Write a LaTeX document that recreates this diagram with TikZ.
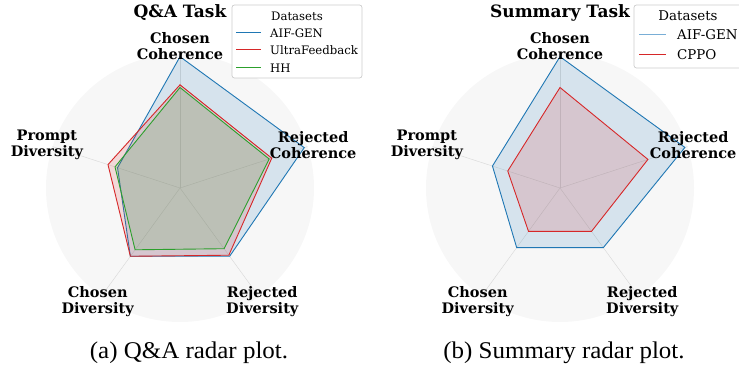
\documentclass[tikz,border=0pt]{standalone}
\usepackage{fontspec}
\setmainfont{Liberation Serif}
\newfontfamily\plotfont{DejaVu Serif}
\usetikzlibrary{positioning}
\definecolor{aifblue}{HTML}{1F77B4}
\definecolor{aiflight}{HTML}{79AED6}
\definecolor{ufred}{HTML}{D62728}
\definecolor{hhgreen}{HTML}{2CA02C}
\definecolor{polarbg}{HTML}{F7F7F7}
\definecolor{spokegray}{HTML}{DADADA}
\tikzset{
  axislabel/.style = {font=\plotfont\bfseries\fontsize{14.5}{16}\selectfont, align=center, inner sep=0pt},
  plottitle/.style = {font=\plotfont\bfseries\fontsize{17}{18}\selectfont, inner sep=0pt},
  legendtext/.style = {font=\plotfont\fontsize{11.7}{13}\selectfont, anchor=west, inner sep=0pt},
  legendbig/.style = {legendtext, font=\plotfont\fontsize{13.4}{15}\selectfont},
  legendline/.style = {draw=#1, line width=1.1pt},
  legendbox/.style = {draw=black!20, fill=white, rounded corners=2.5pt, line width=0.7pt},
  series/.style = {draw=#1, fill=#1, fill opacity=0.15, draw opacity=1, line width=0.9pt},
  spoke/.style = {draw=spokegray, line width=0.45pt},
  subcaption/.style = {font=\fontsize{24}{26}\selectfont, inner sep=0pt}
}

\begin{document}
\begin{tikzpicture}[x=1pt,y=1pt]
  \clip (0,0) rectangle (739,366);
  \pgfmathsetmacro{\R}{134};
  \pgfmathsetmacro{\L}{140};

  % Q&A radar plot
  \begin{scope}[shift={(180,178)}]
    \fill[polarbg] (0,0) circle (\R);
    \foreach \a in {90,18,-54,-126,162}
      \draw[spoke] (0,0) -- (\a:\R);
    \draw[series=aifblue] (90:0.98*\R) -- (18:0.975*\R) -- (-54:0.63*\R) -- (-126:0.63*\R) -- (162:0.49*\R) -- cycle;
    \draw[series=ufred] (90:0.77*\R) -- (18:0.72*\R) -- (-54:0.62*\R) -- (-126:0.63*\R) -- (162:0.565*\R) -- cycle;
    \draw[series=hhgreen] (90:0.75*\R) -- (18:0.70*\R) -- (-54:0.56*\R) -- (-126:0.57*\R) -- (162:0.51*\R) -- cycle;
    \node[axislabel] (qaCC) at (90:142) {Chosen\\Coherence};
    \node[axislabel] (qaRC) at (18:\L) {Rejected\\Coherence};
    \node[axislabel] (qaRD) at (-54:\L) {Rejected\\Diversity};
    \node[axislabel] (qaCD) at (-126:\L) {Chosen\\Diversity};
    \node[axislabel] (qaPD) at (162:\L) {Prompt\\Diversity};
    \node[plottitle] (qaTitle) at (0,175) {Q\&A Task};
  \end{scope}
  \draw[legendbox] (232,361) rectangle (362,288);
  \node[legendtext, anchor=center] (qaLeg) at (297,350) {Datasets};
  \draw[legendline=aifblue] (236,333.5) -- (261,333.5);
  \node[legendtext] (qaAif) at (270,333) {AIF-GEN};
  \draw[legendline=ufred] (236,316.5) -- (261,316.5);
  \node[legendtext] (qaUf) at (270,316) {UltraFeedback};
  \draw[legendline=hhgreen] (236,298.5) -- (261,298.5);
  \node[legendtext] (qaHh) at (270,298) {HH};
  \node[subcaption] (capA) at (189,13) {\scalebox{1.04}[1]{(a) Q\&A radar plot.}};

  % Summary radar plot
  \begin{scope}[shift={(560,178)}]
    \fill[polarbg] (0,0) circle (\R);
    \foreach \a in {90,18,-54,-126,162}
      \draw[spoke] (0,0) -- (\a:\R);
    \draw[series=aifblue] (90:0.98*\R) -- (18:0.98*\R) -- (-54:0.55*\R) -- (-126:0.55*\R) -- (162:0.53*\R) -- cycle;
    \draw[series=ufred] (90:0.75*\R) -- (18:0.69*\R) -- (-54:0.40*\R) -- (-126:0.40*\R) -- (162:0.41*\R) -- cycle;
    \node[axislabel] (smCC) at (90:142) {Chosen\\Coherence};
    \node[axislabel] (smRC) at (18:\L) {Rejected\\Coherence};
    \node[axislabel] (smRD) at (-54:\L) {Rejected\\Diversity};
    \node[axislabel] (smCD) at (-126:\L) {Chosen\\Diversity};
    \node[axislabel] (smPD) at (162:\L) {Prompt\\Diversity};
    \node[plottitle] (smTitle) at (0,175) {Summary Task};
  \end{scope}
  \draw[legendbox] (634,361) rectangle (760,298);
  \node[legendbig, anchor=center] (smLeg) at (688,350) {Datasets};
  \draw[legendline=aiflight, line width=1.5pt] (639,331.5) -- (666,331.5);
  \node[legendbig] (smAif) at (677,331) {AIF-GEN};
  \draw[legendline=ufred] (639,311.5) -- (666,311.5);
  \node[legendbig] (smCppo) at (677,311) {CPPO};
  \node[subcaption] (capB) at (564,13) {\scalebox{1.04}[1]{(b) Summary radar plot.}};
\end{tikzpicture}
\end{document}
